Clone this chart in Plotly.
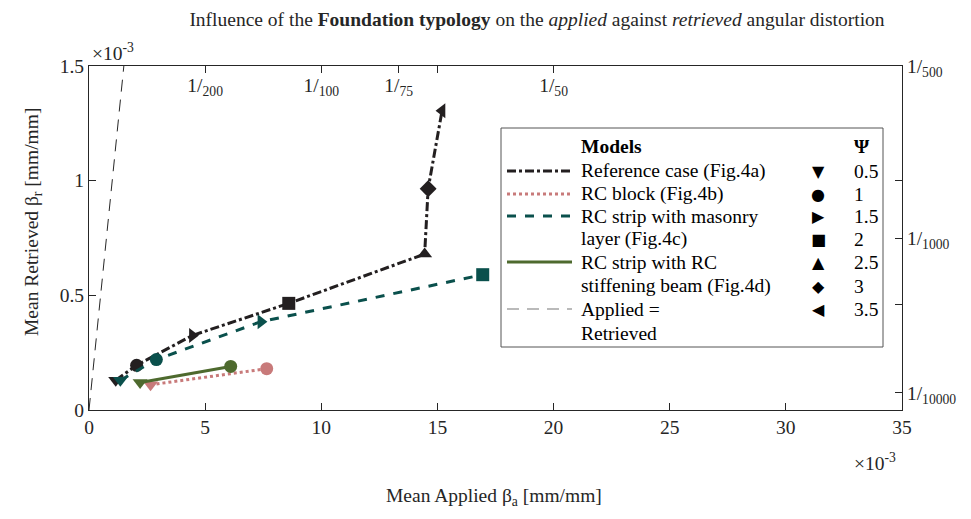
import plotly.graph_objects as go

# =========================================================
# DATA  (values in units of 1e-3 mm/mm)
# =========================================================
psi = [0.5, 1, 1.5, 2, 2.5, 3, 3.5]
psi_symbols = ['triangle-down', 'circle', 'triangle-right', 'square',
               'triangle-up', 'diamond', 'triangle-left']
psi_glyphs = ['▼', '●', '▶', '■', '▲', '◆', '◀']

ref_applied = [1.15, 2.05, 4.45, 8.6, 14.45, 14.6, 15.2]
ref_retrieved = [0.13, 0.195, 0.325, 0.465, 0.68, 0.965, 1.305]

block_applied = [2.65, 7.65]
block_retrieved = [0.11, 0.18]

masonry_applied = [1.35, 2.9, 7.4, 16.95]
masonry_retrieved = [0.13, 0.22, 0.385, 0.59]

beam_applied = [2.2, 6.1]
beam_retrieved = [0.12, 0.19]

equal_line = [0, 1.5]

top_tickvals = [5, 10, 40 / 3, 15, 20]
top_ticktext = ['1/<sub>200</sub>', '1/<sub>100</sub>', '1/<sub>75</sub>', '',
                '1/<sub>50</sub>']
right_tickvals = [0.075, 0.46, 0.75, 1.0, 1.5]
right_ticktext = ['1/<sub>10000</sub>', '', '1/<sub>1000</sub>', '',
                  '1/<sub>500</sub>']

models = ['Reference case (Fig.4a)', 'RC block (Fig.4b)', 'RC strip with masonry',
          'layer (Fig.4c)', 'RC strip with RC', 'stiffening beam (Fig.4d)',
          'Applied =', 'Retrieved']

# =========================================================
# STYLE
# =========================================================
FONT = 'Liberation Serif'
FS = 19.5
AX = '#262626'
OFF = 8  # page body margin
W, H = 971 - OFF, 519 - OFF
L, T = 89 - OFF, 66 - OFF
PW, PH = 813, 344
R, B = W - L - PW, H - T - PH

c_ref = '#231f20'
c_block = '#c87a7a'
c_mas = '#0a504c'
c_beam = '#4e6a2e'


# helpers: screen pixel -> paper coordinate
def px(x):
    return (x - OFF - L) / PW


def py(y):
    return (T + PH - (y - OFF)) / PH


def text_at(x, y, text, anchor='left', size=FS, family=FONT, color='black', **kw):
    fig.add_annotation(x=px(x), y=py(y), xref='paper', yref='paper', text=text,
                       showarrow=False, xanchor=anchor, yanchor='middle',
                       font=dict(family=family, size=size, color=color), **kw)


fig = go.Figure()

series = [
    (ref_applied, ref_retrieved, c_ref, 'dashdot'),
    (block_applied, block_retrieved, c_block, 'dot'),
    (masonry_applied, masonry_retrieved, c_mas, 'dash'),
    (beam_applied, beam_retrieved, c_beam, 'solid'),
]

fig.add_trace(go.Scatter(
    x=equal_line, y=equal_line, mode='lines',
    line=dict(color=AX, width=1, dash='12px,8px'), showlegend=False
))

for xs, ys, col, dash in series:
    fig.add_trace(go.Scatter(
        x=xs, y=ys, mode='lines+markers',
        line=dict(color=col, width=3, dash=dash),
        marker=dict(symbol=psi_symbols[:len(xs)], size=13, color=col),
        showlegend=False
    ))

# invisible trace so the secondary axes are drawn
fig.add_trace(go.Scatter(
    x=equal_line, y=equal_line, xaxis='x2', yaxis='y2', mode='lines',
    line=dict(color='rgba(0,0,0,0)'), showlegend=False, hoverinfo='skip'
))

# =========================================================
# LEGEND (built by hand: models column + psi column)
# =========================================================
box_l, box_r, box_t, box_b = 501, 883, 128, 347
fig.add_shape(type='rect', xref='paper', yref='paper',
              x0=px(box_l), x1=px(box_r), y0=py(box_b), y1=py(box_t),
              line=dict(color='#555555', width=1), fillcolor='white')

text_at(579, 146, '<b>Models</b>')
text_at(852, 146, '<b>Ψ</b>')

row_y = [171, 194, 216, 239, 262, 286, 309, 333]
for text, yy in zip(models, row_y):
    text_at(579, yy, text)

sample_rows = [171, 194, 216, 262, 309]
sample_styles = [(c_ref, 3, 'dashdot'), (c_block, 3, 'dot'), (c_mas, 3, 'dash'),
                 (c_beam, 3, 'solid'), ('#777777', 1.2, '12px,8px')]
for yy, (col, w, dash) in zip(sample_rows, sample_styles):
    fig.add_shape(type='line', xref='paper', yref='paper',
                  x0=px(507), x1=px(572), y0=py(yy), y1=py(yy),
                  line=dict(color=col, width=w, dash=dash))

for g, p, yy in zip(psi_glyphs, psi, row_y):
    text_at(818, yy, g, anchor='center', size=16, family='DejaVu Sans')
    text_at(852, yy, f'{p:g}')

# =========================================================
# TEXT
# =========================================================
text_at(90, 52, '×10<sup>-3</sup>', color=AX)
text_at(898, 462, '×10<sup>-3</sup>', anchor='right', color=AX)
text_at(494, 497, 'Mean Applied β<sub>a</sub> [mm/mm]', anchor='center', color=AX)
text_at(33, 222, 'Mean Retrieved β<sub>r</sub> [mm/mm]', anchor='center',
        color=AX, textangle=-90)

axis_common = dict(showline=True, linecolor=AX, linewidth=1, ticks='inside',
                   ticklen=7, tickcolor=AX, showgrid=False, zeroline=False,
                   automargin=False, ticklabeloverflow='allow',
                   tickfont=dict(family=FONT, size=FS, color=AX))

fig.update_layout(
    width=W, height=H,
    margin=dict(l=L, r=R, t=T, b=B),
    plot_bgcolor='white', paper_bgcolor='white',
    title=dict(
        text='Influence of the <b>Foundation typology</b> on the <i>applied</i> '
             'against <i>retrieved</i> angular distortion',
        x=(537 - OFF) / W, xanchor='center', y=1 - (19 - OFF) / H, yanchor='middle',
        font=dict(family=FONT, size=FS, color=AX)
    ),
    xaxis=dict(range=[0, 35], tickvals=list(range(0, 36, 5)), **axis_common),
    yaxis=dict(range=[0, 1.5], tickvals=[0, 0.5, 1, 1.5], ticktext=['0', '0.5', '1', '1.5'],
               **axis_common),
    xaxis2=dict(range=[0, 35], overlaying='x', side='top', tickvals=top_tickvals,
                ticktext=top_ticktext, ticklabelposition='inside',
                ticklabelstandoff=6, **axis_common),
    yaxis2=dict(range=[0, 1.5], overlaying='y', side='right',
                tickvals=right_tickvals, ticktext=right_ticktext, **axis_common),
    font=dict(family=FONT, size=FS, color=AX),
)

fig.write_html('out.html')
